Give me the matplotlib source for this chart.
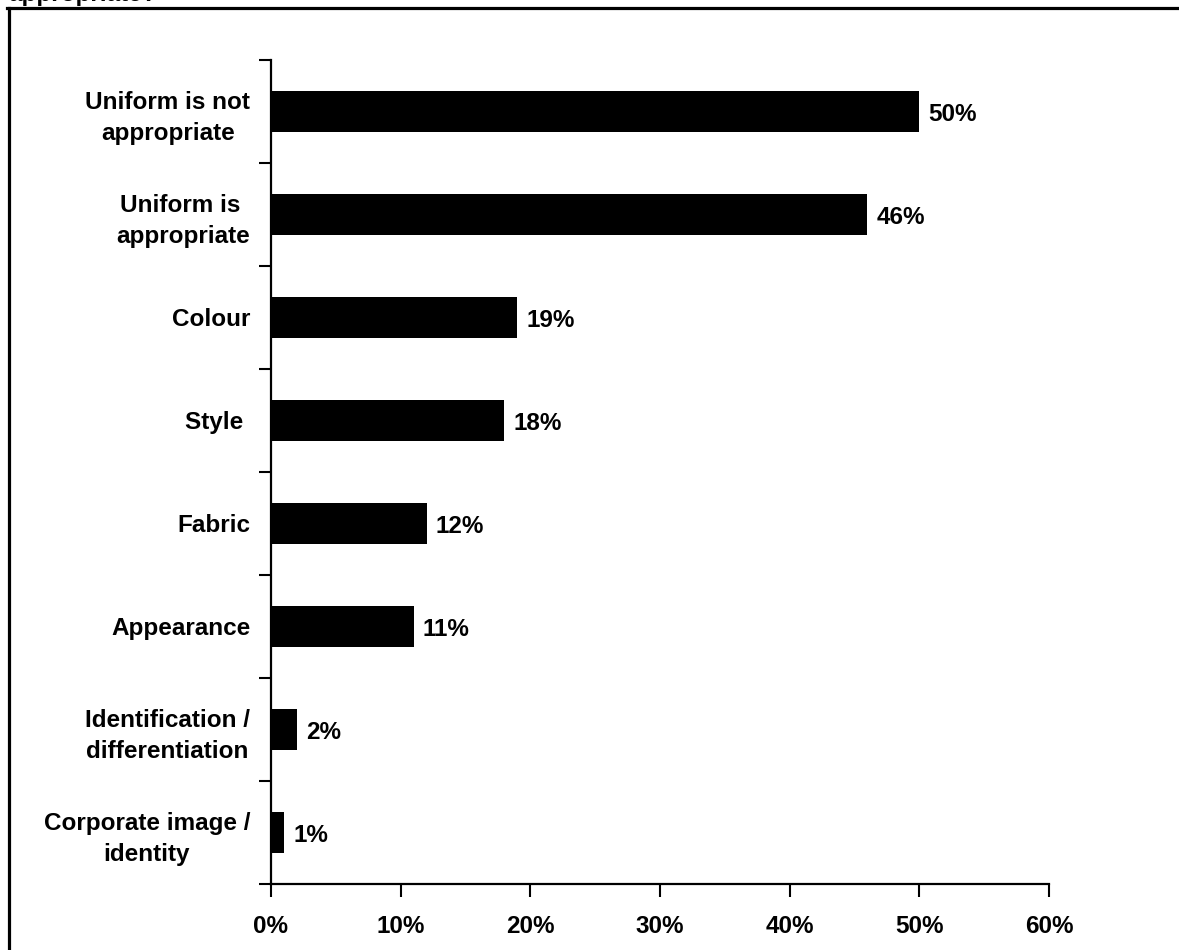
# -*- coding: utf-8 -*-
import matplotlib
matplotlib.use('Agg')
import numpy as np
import matplotlib.pyplot as plt
from matplotlib.lines import Line2D

plt.rcParams['font.family'] = ['Liberation Sans', 'DejaVu Sans']
plt.rcParams['font.weight'] = 'bold'

labels = ['Uniform is not\nappropriate', 'Uniform is \nappropriate', 'Colour', 'Style ',
          'Fabric', 'Appearance', 'Identification /\ndifferentiation', 'Corporate image /\nidentity']
values = [50, 46, 19, 18, 12, 11, 2, 1]
xticks = [0, 10, 20, 30, 40, 50, 60]

fs = 17.5

fig = plt.figure(figsize=(11.79, 9.5), dpi=100)
ax = fig.add_axes([271 / 1179, 1 - 884 / 950, (1049 - 271) / 1179, (884 - 60) / 950])

pos = np.arange(len(values))
ax.barh(pos, values, height=0.4, color='black')
for p, v in zip(pos, values):
    ax.text(v + 0.7, p + 0.03, '%d%%' % v, va='center', ha='left', fontsize=fs, fontweight='bold')

ax.set_ylim(len(values) - 0.5, -0.5)
ax.set_xlim(0, 60)

# category ticks sit between bars
ax.set_yticks(np.arange(len(values) + 1) - 0.5)
ax.set_yticklabels([])
ax.set_yticks(pos, minor=True)
ax.set_yticklabels(labels, minor=True, multialignment='center', fontsize=fs, fontweight='bold',
                   linespacing=1.42)
ax.tick_params(axis='y', which='minor', length=0, pad=15)
ax.tick_params(axis='y', which='major', length=9, width=1.5)

ax.set_xticks(xticks)
ax.set_xticklabels(['%d%%' % t for t in xticks], fontsize=fs, fontweight='bold')
ax.tick_params(axis='x', length=9, width=1.5, pad=13)

for s in ['top', 'right']:
    ax.spines[s].set_visible(False)
for s in ['left', 'bottom']:
    ax.spines[s].set_linewidth(1.6)

# outer frame of the original slide
fig.add_artist(Line2D([8.5 / 1179, 8.5 / 1179], [0, 1 - 7.5 / 950], color='black', linewidth=2.3))
fig.add_artist(Line2D([7.5 / 1179, 1.0], [1 - 7.5 / 950, 1 - 7.5 / 950], color='black', linewidth=2.3))

# title mostly cut off at the top
fig.text(8 / 1179, 1 - 1 / 950, 'appropriate?', fontsize=fs, fontweight='bold', ha='left', va='baseline')

fig.savefig('out.png', dpi=100)
